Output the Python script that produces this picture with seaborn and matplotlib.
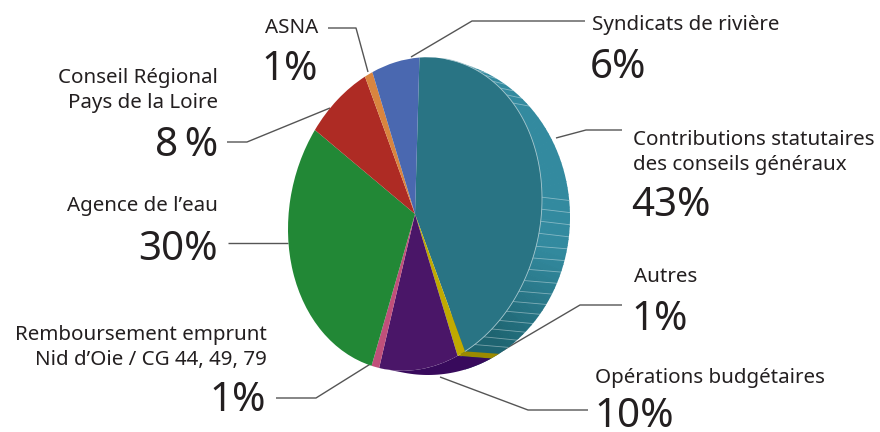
import numpy as np
import matplotlib
matplotlib.use('Agg')
import matplotlib.pyplot as plt
from matplotlib.patches import Wedge
from matplotlib.transforms import Affine2D
import seaborn as sns

# Budget shares, clockwise from the top of the pie
labels = ['Contributions statutaires\ndes conseils généraux', 'Autres', 'Opérations budgétaires',
          'Remboursement emprunt\nNid d’Oie / CG 44, 49, 79', 'Agence de l’eau',
          'Conseil Régional\nPays de la Loire', 'ASNA', 'Syndicats de rivière']
shares = [43, 1, 10, 1, 30, 8, 1, 6]
share_texts = ['43%', '1%', '10%', '1%', '30%', '8\u2009%', '1%', '6%']
face_colors = ['#297484', '#c0aa00', '#4a1668', '#c0507a', '#228836', '#ae2b24', '#d9853f', '#4a68b0']
yellow_side = '#9c8a00'
purple_side = '#380a5c'

sns.set_theme(style='white')
plt.rcParams['font.family'] = ['Noto Sans', 'DejaVu Sans']

fig = plt.figure(figsize=(8.8, 4.32), dpi=100)
ax = fig.add_axes([0, 0, 1, 1])

# ellipse geometry in pixels: cx, cy, rx, ry, shear
face = (415, 214, 127, 156, -0.12)
side = (428, 217, 142, 158, 0.0)
start = 2  # degrees clockwise from the top
side_lag = 6.8  # the rim lags behind the face at the bottom


def stretch(cx, cy, rx, ry, k):
    return Affine2D(np.array([[rx, 0, cx], [k * rx, -ry, cy], [0, 0, 1.0]]))


def rim_point(geom, t):
    r = np.radians(t)
    return stretch(*geom).transform(np.c_[np.sin(r), np.cos(r)])


# pie on a unit circle, then stretched into pixel space
wedges, _ = ax.pie(shares, colors=face_colors, startangle=90 - start, counterclock=False,
                   wedgeprops={'linewidth': 0})
for w in wedges:
    w.set_transform(stretch(*face) + ax.transData)
    w.set_zorder(4)

ax.set_aspect('auto')
ax.set_xlim(0, 880)
ax.set_ylim(432, 0)
ax.axis('off')

# slice boundaries, clockwise from the top
bounds = start + np.cumsum(shares) * 3.6
teal_end, yellow_end, purple_end = bounds[:3]

# Shaded bands on the side of the large slice
side_tf = stretch(*side) + ax.transData
bands = 60
shades = sns.blend_palette(['#338a9f', '#338a9f', '#338a9f', '#1e6471'], bands)
edges = np.linspace(81, 90 - (teal_end - side_lag), bands + 1)
edges[-1] -= 15  # run on under the yellow side so no gap is left
for i in range(bands):
    ax.add_patch(Wedge((0, 0), 1, edges[i + 1], edges[i] + 0.3, color=shades[i], lw=0,
                       transform=side_tf, zorder=2))

# Yellow and purple sides, from the face arc out to the rim arc
for t0, t1, col in [(teal_end, yellow_end, yellow_side), (yellow_end, purple_end, purple_side)]:
    near = rim_point(face, np.linspace(t0, t1, 30))
    far = rim_point(side, np.linspace(t1 - side_lag, t0 - side_lag, 30))
    poly = np.r_[near, far]
    ax.fill(poly[:, 0], poly[:, 1], color=col, lw=0, zorder=3)

# Light stripes between front face and outer rim, nearly level
stripes = np.r_[np.arange(16, 48, 4.2), np.arange(84, 150, 4.4)]
outer = rim_point(side, stripes)
face_pts = rim_point(face, np.linspace(0, 160, 400))
for q in outer:
    # stripe leaves the face a few pixels higher than it reaches the rim
    p = face_pts[np.argmin(np.abs(face_pts[:, 1] - (q[1] - 3)))]
    ax.plot([p[0], q[0]], [p[1], q[1]], color='white', alpha=0.4, lw=0.6, zorder=3)

arc = rim_point(face, np.linspace(14, teal_end, 100))
ax.plot(arc[:, 0], arc[:, 1], color='#a9c9d0', lw=0.6, zorder=5)

# Leader lines
leaders = [
    [(622, 130), (586, 130), (556, 138)],
    [(622, 305), (580, 305), (495, 355)],
    [(588, 410), (528, 410), (440, 377)],
    [(276, 398), (316, 398), (372, 363)],
    [(228, 243), (288, 243)],
    [(227, 142), (247, 142), (330, 108)],
    [(328, 28), (356, 28), (368, 72)],
    [(585, 21), (472, 21), (411, 57)],
]
for pts in leaders:
    xs, ys = zip(*pts)
    ax.plot(xs, ys, color='#555555', lw=1, zorder=0, solid_capstyle='butt')

# Label anchors: x, alignment, baseline of the last name line, baseline of the share, x of the share
anchors = [
    (633, 'left', 170, 216, 631),
    (634, 'left', 282, 330, 631),
    (595, 'left', 383, 427, 594),
    (267, 'right', 365, 411, 266),
    (218, 'right', 211, 260, 218),
    (218, 'right', 108, 156, 218),
    (318, 'right', 33, 80, 318),
    (592, 'left', 30, 78, 590),
]
for name, pct, (x, ha, y_name, y_pct, x_pct) in zip(labels, share_texts, anchors):
    ax.text(x, y_name, name, ha=ha, va='baseline', fontsize=14.8, color='#231f20',
            linespacing=1.35, multialignment=ha)
    ax.text(x_pct, y_pct, pct, ha=ha, va='baseline', fontsize=29, color='#231f20')

fig.savefig('out.png', dpi=100)
